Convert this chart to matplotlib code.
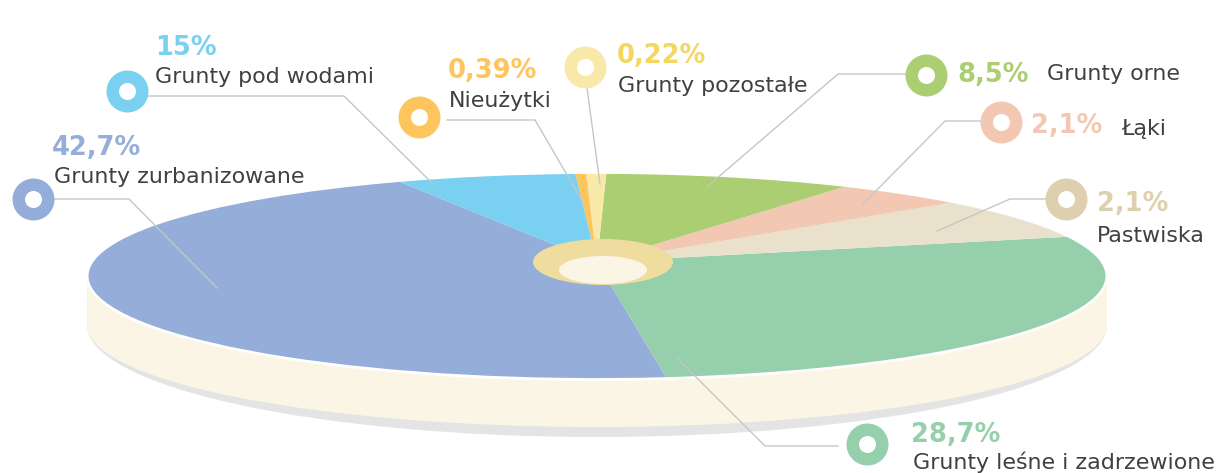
import matplotlib
matplotlib.use("Agg")
import matplotlib.pyplot as plt
import numpy as np
from matplotlib.patches import Ellipse, Rectangle
from matplotlib.transforms import Transform

# labels as printed on the chart
categories = ["Grunty zurbanizowane", "Grunty leśne i zadrzewione", "Pastwiska", "Łąki",
              "Grunty orne", "Grunty pozostałe", "Nieużytki", "Grunty pod wodami"]
value_labels = ["42,7%", "28,7%", "2,1%", "2,1%", "8,5%", "0,22%", "0,39%", "15%"]

# slice sizes as drawn (degrees on the disc), the picture does not follow the printed numbers
slice_sizes = [160.7, 98.3, 25.0, 16.7, 32.0, 2.6, 1.4, 23.3]
START_ANGLE = 116.1

slice_colors = ["#95ADD9", "#95CFAC", "#E9E1CC", "#F3C8B3", "#ABCE72", "#F8E9A9", "#FEC45D", "#7AD0F1"]
ring_colors = ["#95ADD9", "#95CFAC", "#DED0AE", "#F3C8B3", "#ABCE72", "#F8E9A9", "#FEC45D", "#7AD0F1"]
value_colors = ["#95ADD9", "#95CFAC", "#DED0AE", "#F3C8B3", "#ABCE72", "#F3D75E", "#FEC45D", "#7AD0F1"]

# layout, all in image pixels
RINGS = [(33, 199), (867, 444), (1066, 199), (1001, 122), (926, 75), (585, 67), (419, 117), (127, 91)]
VALUE_POS = [(52, 155), (911, 442), (1097, 211), (1031, 133), (957, 82), (617, 63), (448, 78), (155, 55)]
LABEL_POS = [(54, 183), (913, 469), (1097, 242), (1121, 135), (1047, 80), (618, 92), (449, 107), (155, 83)]
LEADERS = [
    [(54, 199), (129, 199), (217, 288)],
    [(838, 446), (765, 446), (677, 358)],
    [(1046, 199), (1010, 199), (937, 231)],
    [(980, 121), (945, 121), (863, 204)],
    [(906, 74), (838, 74), (708, 186)],
    [(587, 88), (600, 184)],
    [(447, 120), (535, 120), (584, 204)],
    [(148, 96), (344, 96), (432, 183)],
]
TIP_X, TIP_Y = 597, 262
SCALE_X, SCALE_Y, TILT = 503.7, 100.2, 0.137


class DiscPerspective(Transform):
    """Unit disc -> image pixels, tilted so the near edge looks bigger."""
    input_dims = 2
    output_dims = 2

    def transform_non_affine(self, values):
        values = np.asarray(values)
        w = 1 + TILT * values[:, 1]
        return np.column_stack([TIP_X + SCALE_X * values[:, 0] / w,
                                TIP_Y - SCALE_Y * values[:, 1] / w])


fig = plt.figure(figsize=(12.16, 4.73), dpi=100)
ax = fig.add_axes([0, 0, 1, 1])

# base of the disc: shadow, cream side, white rim
ax.add_patch(Ellipse((597, 325), 1020, 224, color="#E4E4E4", lw=0, zorder=1))
ax.add_patch(Ellipse((597, 325), 1020, 204, color="#FBF5E5", lw=0, zorder=2))
ax.add_patch(Rectangle((87, 275), 1020, 50, color="#FBF5E5", lw=0, zorder=2))
ax.add_patch(Ellipse((597, 278), 1020, 206, color="white", lw=0, zorder=3))

wedges, _ = ax.pie(slice_sizes, colors=slice_colors, startangle=START_ANGLE, counterclock=True,
                   wedgeprops={"linewidth": 0})
to_pixels = DiscPerspective() + ax.transData
for w in wedges:
    w.set_transform(to_pixels)
    w.set_zorder(4)

ax.set_aspect("auto")
ax.set_xlim(0, 1216)
ax.set_ylim(473, 0)
ax.axis("off")

# hub
ax.add_patch(Ellipse((603, 262), 140, 46, color="#EFDC9F", lw=0, zorder=5))
ax.add_patch(Ellipse((603, 270), 88, 28, color="#FBF5E5", lw=0, zorder=6))

for pts in LEADERS:
    xs, ys = zip(*pts)
    ax.plot(xs, ys, color="#C6C6C6", lw=1, zorder=7)

for i, name in enumerate(categories):
    rx, ry = RINGS[i]
    ax.scatter(rx, ry, s=914, color=ring_colors[i], linewidths=0, zorder=8)
    ax.scatter(rx, ry, s=150, color="white", linewidths=0, zorder=9)
    ax.text(*VALUE_POS[i], value_labels[i], color=value_colors[i], fontsize=18.5, fontweight="bold",
            family="DejaVu Sans", ha="left", va="baseline", zorder=10)
    ax.text(*LABEL_POS[i], name, color="#404040", fontsize=15.9,
            family="DejaVu Sans", ha="left", va="baseline", zorder=10)

fig.savefig("out.png", dpi=100)
